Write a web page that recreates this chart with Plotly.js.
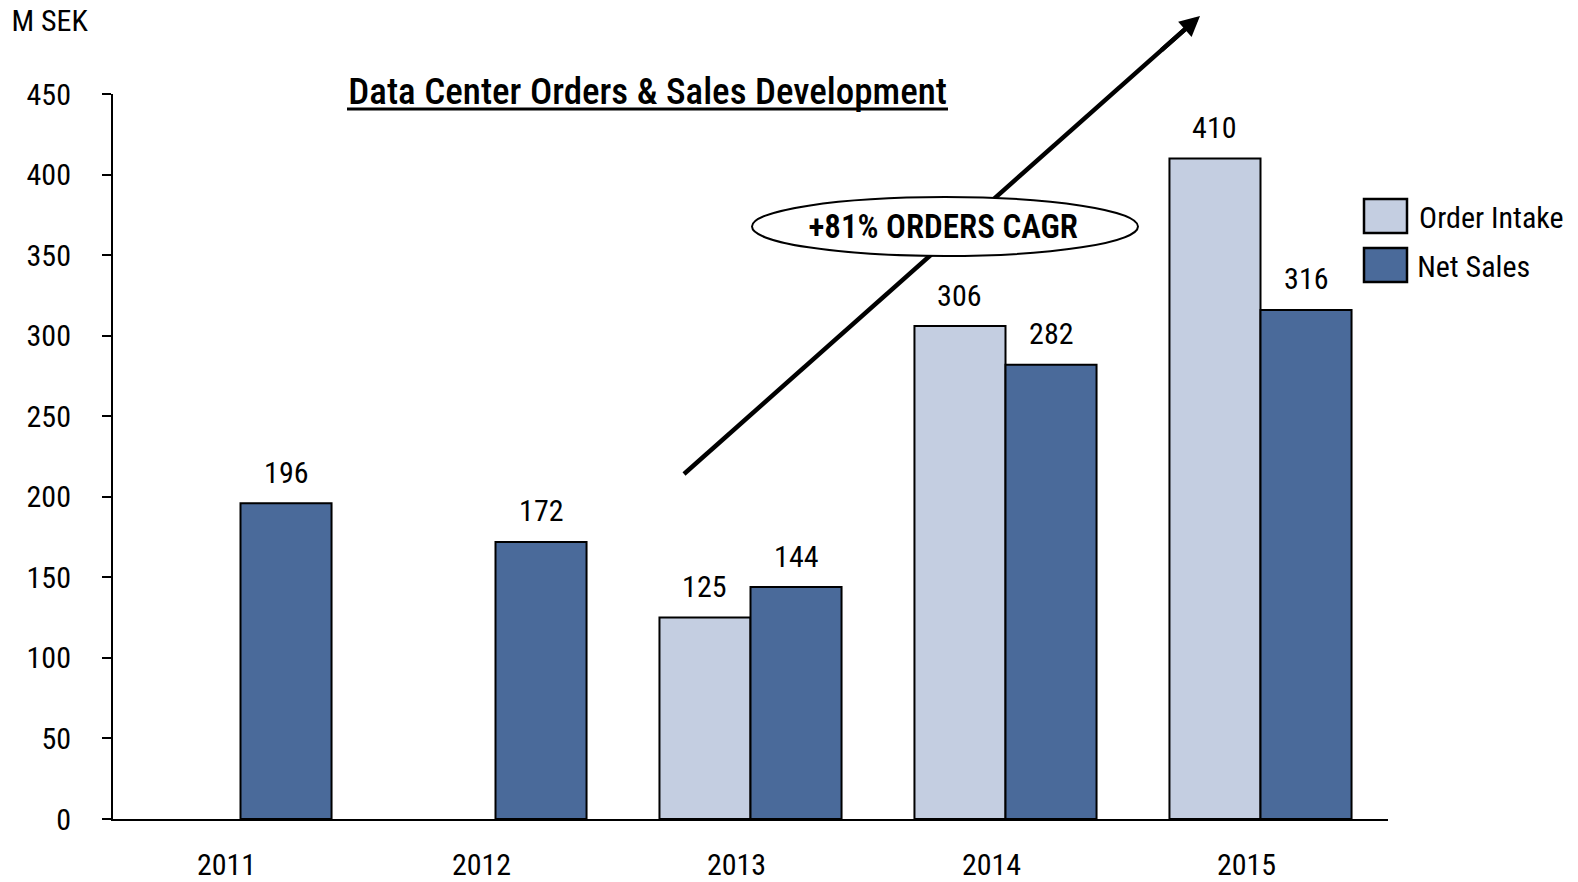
<!DOCTYPE html>
<html>
<head>
<meta charset="utf-8">
<script src="https://cdn.plot.ly/plotly-3.0.1.min.js"></script>
<style>
html,body{margin:0;padding:0;background:#fff;}
#chart{width:1578px;height:882px;}
#chart text{font-stretch:condensed !important;}
</style>
</head>
<body>
<div id="chart"></div>
<script>
const years = ['2011', '2012', '2013', '2014', '2015'];
const orderIntake = [null, null, 125, 306, 410];
const netSales = [196, 172, 144, 282, 316];
const seriesNames = ['Order Intake', 'Net Sales'];
const yTicks = [0, 50, 100, 150, 200, 250, 300, 350, 400, 450];
const chartTitle = 'Data Center Orders & Sales Development';
const unitLabel = 'M SEK';
const cagrLabel = '+81% ORDERS CAGR';

const FONT = 'Roboto, "Roboto Condensed", "Open Sans", sans-serif';
const LIGHT = '#C4CEE1';
const DARK = '#4A6A9A';
const BARGAP = 0.286;
const barW = (1 - BARGAP) / 2;

// plot-area geometry (pixels) used to place decorations in paper coordinates
const W = 1578, H = 882, L = 113, R = 1388, T = 94, B = 819;
const px = x => (x - L) / (R - L);
const py = y => (B - y) / (B - T);

const traces = [
  {type: 'bar', name: seriesNames[0], x: years, y: orderIntake, marker: {color: LIGHT, line: {color: '#000', width: 2}}, showlegend: false},
  {type: 'bar', name: seriesNames[1], x: years, y: netSales, marker: {color: DARK, line: {color: '#000', width: 2}}, showlegend: false}
];

const annotations = [];
[orderIntake, netSales].forEach((vals, s) => {
  vals.forEach((v, i) => {
    if (v === null) return;
    annotations.push({
      x: i + (s === 0 ? -barW / 2 : barW / 2), y: v, xref: 'x', yref: 'y',
      text: String(v), showarrow: false, yanchor: 'middle', yshift: 31,
      font: {family: FONT, size: 30, color: '#000'}
    });
  });
});

// arrow geometry
const tail = [684, 474], head = [1200, 16];
const dx = head[0] - tail[0], dy = head[1] - tail[1];
const kHead = 40 / dx;   // annotation arrow piece (carries the arrowhead)
const kShaft = 14 / dx;  // shaft stops just inside the arrowhead
const shaftEnd = [head[0] - dx * kShaft, head[1] - dy * kShaft];

annotations.push({x: px(647.5), y: py(91), xref: 'paper', yref: 'paper', text: chartTitle, showarrow: false,
  xanchor: 'center', yanchor: 'middle', font: {family: FONT, size: 37, color: '#000', weight: 500}});
annotations.push({x: px(4), y: py(20.5), xref: 'paper', yref: 'paper', text: unitLabel, showarrow: false,
  xanchor: 'left', yanchor: 'middle', font: {family: FONT, size: 30, color: '#000'}});
annotations.push({x: px(head[0]), y: py(head[1]), xref: 'paper', yref: 'paper', text: '', showarrow: true,
  ax: -dx * kHead, ay: -dy * kHead, arrowhead: 2, arrowsize: 0.9, arrowwidth: 4.5, arrowcolor: '#000', standoff: 0});
annotations.push({x: px(943), y: py(226), xref: 'paper', yref: 'paper', text: cagrLabel, showarrow: false,
  xanchor: 'center', yanchor: 'middle', font: {family: FONT, size: 33, color: '#000', weight: 600}});
annotations.push({x: px(1408), y: py(218), xref: 'paper', yref: 'paper', text: seriesNames[0], showarrow: false,
  xanchor: 'left', yanchor: 'middle', font: {family: FONT, size: 30, color: '#000'}});
annotations.push({x: px(1408), y: py(266), xref: 'paper', yref: 'paper', text: seriesNames[1], showarrow: false,
  xanchor: 'left', yanchor: 'middle', font: {family: FONT, size: 30, color: '#000'}});

const shapes = [
  {type: 'line', xref: 'paper', yref: 'paper', x0: px(tail[0]), y0: py(tail[1]), x1: px(shaftEnd[0]), y1: py(shaftEnd[1]), line: {color: '#000', width: 4.5}, layer: 'above'},
  {type: 'circle', xref: 'paper', yref: 'paper', x0: px(752), x1: px(1138), y0: py(256), y1: py(197), fillcolor: '#fff', line: {color: '#000', width: 2}, layer: 'above'},
  {type: 'line', xref: 'paper', yref: 'paper', x0: px(347), x1: px(948), y0: py(109), y1: py(109), line: {color: '#000', width: 3}},
  {type: 'rect', xref: 'paper', yref: 'paper', x0: px(1364), x1: px(1407), y0: py(233), y1: py(199), fillcolor: LIGHT, line: {color: '#000', width: 2.5}},
  {type: 'rect', xref: 'paper', yref: 'paper', x0: px(1364), x1: px(1407), y0: py(282), y1: py(248), fillcolor: DARK, line: {color: '#000', width: 2.5}}
];

const layout = {
  width: W, height: H,
  margin: {l: L, r: W - R, t: T, b: H - B, pad: 0},
  paper_bgcolor: '#fff', plot_bgcolor: '#fff',
  barmode: 'group', bargap: BARGAP, bargroupgap: 0,
  showlegend: false,
  font: {family: FONT, size: 30, color: '#000'},
  xaxis: {type: 'category', categoryarray: years, showline: true, linecolor: '#000', linewidth: 2,
    ticks: '', showgrid: false, zeroline: false, ticklabelstandoff: 18, ticklabelshift: -14,
    tickfont: {family: FONT, size: 30, color: '#000'}},
  yaxis: {range: [0, 450], tickvals: yTicks, showline: true, linecolor: '#000', linewidth: 2,
    ticks: 'outside', ticklen: 9, tickwidth: 2, tickcolor: '#000', showgrid: false, zeroline: false,
    ticklabelstandoff: 25, tickfont: {family: FONT, size: 30, color: '#000'}},
  annotations: annotations,
  shapes: shapes
};

Plotly.newPlot('chart', traces, layout, {displayModeBar: false, staticPlot: true});
</script>
</body>
</html>
